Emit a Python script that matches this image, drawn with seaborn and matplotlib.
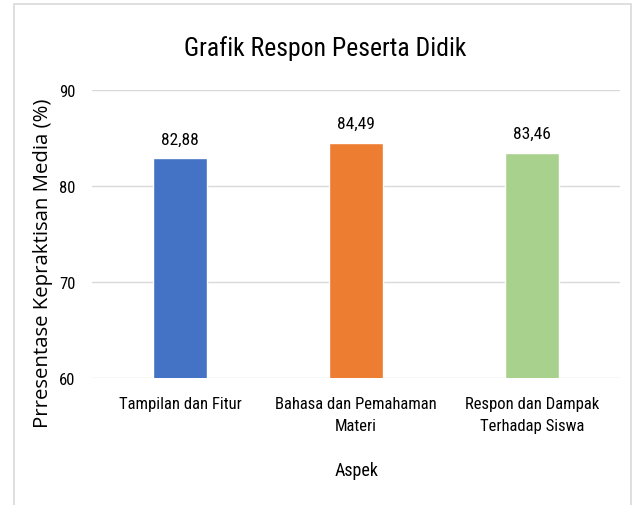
import matplotlib
matplotlib.use("Agg")
from matplotlib import pyplot as plt
from matplotlib.patches import Rectangle
import seaborn as sns
import pandas as pd

# data
aspek = ["Tampilan dan Fitur", "Bahasa dan Pemahaman\nMateri", "Respon dan Dampak\nTerhadap Siswa"]
persentase = [82.88, 84.49, 83.46]
label_nilai = ["82,88", "84,49", "83,46"]
warna = ["#4472C4", "#ED7D31", "#A9D18E"]
y_ticks = [60, 70, 80, 90]

df = pd.DataFrame({"Aspek": aspek, "Persentase": persentase})

sns.set_theme(style="white")
# the reference text is a squeezed Calibri, so take a condensed face
narrow = ['Roboto Condensed', 'Archivo Narrow', 'Barlow Semi Condensed', 'DejaVu Sans']
plt.rcParams['font.family'] = narrow

fig = plt.figure(figsize=(6.4, 5.06), dpi=100)
ax = fig.add_axes([0.144, 0.251, 0.825, 0.569])

sns.barplot(data=df, x="Aspek", y="Persentase", hue="Aspek", palette=warna,
            width=0.31, legend=False, ax=ax, saturation=1)

ax.set_ylim(60, 90)
ax.set_yticks(y_ticks)
ax.yaxis.grid(True, color="#D9D9D9", linewidth=1)
ax.set_axisbelow(True)
for s in ax.spines.values():
    s.set_visible(False)
ax.tick_params(axis="both", length=0, labelsize=12, colors="#000000")
ax.tick_params(axis="y", pad=12)
ax.tick_params(axis="x", pad=13)
for lbl in ax.get_xticklabels():
    lbl.set_linespacing(1.6)

# value labels above bars (baseline ~1.56 units above bar top)
for i, (v, t) in enumerate(zip(persentase, label_nilai)):
    ax.text(i, v + 1.56, t, ha="center", va="baseline", fontsize=12.5, color="#000000")

fig.text(325 / 640, 1 - 56 / 506, "Grafik Respon Peserta Didik", ha="center", va="baseline",
         fontsize=18.5, color="#000000")
ax.set_xlabel("Aspek", fontsize=13, color="#000000")
ax.xaxis.set_label_coords(0.5, -0.29)
ax.set_ylabel("Prresentase Kepraktisan Media (%)", fontsize=14.7,
              color="#000000", family=['Open Sans', 'DejaVu Sans'])
ax.yaxis.set_label_coords(-0.074, 0.401)

# light frame around the chart area
fig.patches.append(Rectangle((0.022, -0.01), 0.964, 1.0, transform=fig.transFigure,
                             fill=False, edgecolor="#D9D9D9", linewidth=1.2))

plt.savefig("out.png", dpi=100)
